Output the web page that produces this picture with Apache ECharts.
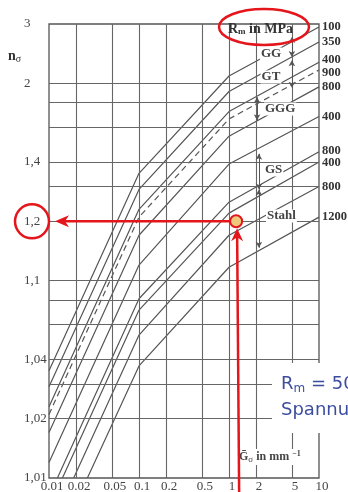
<!DOCTYPE html>
<html><head><meta charset="utf-8">
<script src="https://cdn.jsdelivr.net/npm/echarts@6/dist/echarts.min.js"></script>
<style>html,body{margin:0;padding:0;background:#fff}#c{width:348px;height:492px}</style>
</head><body><div id="c"></div>
<script>
// ---- axis ticks / grid ----
const xGridValues = [0.02, 0.05, 0.1, 0.2, 0.5, 1, 2, 5];
const xTickValues = [0.01, 0.02, 0.05, 0.1, 0.2, 0.5, 1, 2, 5, 10];
const xTickLabels = ['0.01', '0.02', '0.05', '0.1', '0.2', '0.5', '1', '2', '5', '10'];
const yGridValues = [1.02, 1.03, 1.04, 1.06, 1.08, 1.1, 1.2, 1.3, 1.4, 1.6, 1.8, 2];
const yTickValues = [1.01, 1.02, 1.04, 1.1, 1.2, 1.4, 2, 3];
const yTickLabels = ['1,01', '1,02', '1,04', '1,1', '1,2', '1,4', '2', '3'];

// ---- curves: G' (mm^-1) and n_sigma ----
const gFull = [0.01, 0.1, 1, 10];
const gg100 = [1.035, 1.35, 2.09, 2.93];
const gg350 = [1.029, 1.29, 1.91, 2.62];
const gt400 = [1.023, 1.23, 1.72, 2.28];
const gt900 = [1.021, 1.21, 1.66, 2.17];
const ggg800 = [1.017, 1.17, 1.54, 1.96];
const ggg400 = [1.012, 1.12, 1.39, 1.68];
const gs800G = [0.0124, 0.1, 1, 10];
const gs800 = [1.01, 1.081, 1.25, 1.45];
const gs400G = [0.0141, 0.1, 1, 10];
const gs400 = [1.01, 1.071, 1.22, 1.40];
const st800G = [0.0188, 0.1, 1, 10];
const st800 = [1.01, 1.053, 1.17, 1.30];
const st1200G = [0.0267, 0.1, 1, 10];
const st1200 = [1.01, 1.037, 1.117, 1.21];
const curveLabels = ['100', '350', '400', '900', '800', '400', '800', '400', '800', '1200'];

// ---- range brackets (G', n_top, n_bottom) ----
const bracketNames = ['GG', 'GT', 'GGG', 'GS', 'Stahl'];
const bracketG = [5, 5, 2.05, 2.15, 2.15];
const bracketTop = [2.72, 2.31, 1.85, 1.44, 1.29];
const bracketBottom = [2.36, 1.95, 1.65, 1.29, 1.147];

// ---- example reading ----
const exampleG = 1.2;
const exampleN = 1.2;

const curves = [
  [gFull, gg100], [gFull, gg350], [gFull, gt400], [gFull, gt900], [gFull, ggg800],
  [gFull, ggg400], [gs800G, gs800], [gs400G, gs400], [st800G, st800], [st1200G, st1200]
];
const labelShift = [0, 0, -2, 3, 0, 0, -1, 1, 0, 0];

const chart = echarts.init(document.getElementById('c'), null, {renderer: 'canvas'});
const serif = '"Liberation Serif", "DejaVu Serif", serif';
const sans = '"DejaVu Sans", sans-serif';
const lineCol = '#555';

const series = curves.map((c, i) => ({
  type: 'line',
  name: curveLabels[i],
  data: c[0].map((g, k) => [g, c[1][k] - 1]),
  symbol: 'none',
  clip: true,
  animation: false,
  z: 3,
  lineStyle: {color: lineCol, width: 1.2, type: i === 3 ? [6, 4] : 'solid'},
  endLabel: {
    show: true, formatter: curveLabels[i], distance: 3, offset: [0, labelShift[i]],
    color: '#333', fontFamily: serif, fontSize: 12.5, fontWeight: 'bold'
  }
}));

series[0].markLine = {
  silent: true, symbol: 'none', animation: false,
  label: {show: false},
  lineStyle: {color: '#666', width: 1.1, type: 'solid'},
  data: xGridValues.map(v => ({xAxis: v})).concat(yGridValues.map(v => ({yAxis: v - 1})))
};
series[1].markLine = {
  silent: true, symbol: ['arrow', 'arrow'], symbolSize: [5, 6], animation: false,
  label: {show: false},
  lineStyle: {color: '#555', width: 1, type: 'solid'},
  data: bracketNames.map((b, i) => [
    {coord: [bracketG[i], bracketTop[i] - 1]},
    {coord: [bracketG[i], bracketBottom[i] - 1]}
  ])
};

chart.setOption({
  backgroundColor: '#fff',
  animation: false,
  grid: {left: 49, top: 24, width: 270, height: 454, show: true, borderColor: '#555', borderWidth: 1.3, backgroundColor: 'transparent'},
  xAxis: {type: 'log', logBase: 10, min: 0.01, max: 10,
    axisLine: {show: false}, axisTick: {show: false}, axisLabel: {show: false}, splitLine: {show: false}},
  yAxis: {type: 'log', logBase: 10, min: 0.01, max: 2,
    axisLine: {show: false}, axisTick: {show: false}, axisLabel: {show: false}, splitLine: {show: false}},
  series: series
});

const px = v => chart.convertToPixel({xAxisIndex: 0}, v);
const py = v => chart.convertToPixel({yAxisIndex: 0}, v - 1);
const red = '#e4161c';
const g = [];

yTickValues.forEach((v, i) => g.push({type: 'text', z: 100, x: 24, y: py(v),
  style: {text: yTickLabels[i], fill: '#444', font: '13px ' + serif, verticalAlign: 'middle', align: 'left'}}));
xTickValues.forEach((v, i) => g.push({type: 'text', z: 100, x: px(v) + 3, y: 487,
  style: {text: xTickLabels[i], fill: '#444', font: '13px ' + serif, verticalAlign: 'middle', align: 'center'}}));

// axis titles
g.push({type: 'text', z: 100, x: 8, y: 56, style: {
  text: '{n|n}{s|σ}', verticalAlign: 'middle',
  rich: {n: {fontFamily: serif, fontSize: 14, fill: '#333', fontWeight: 'bold'}, s: {fontFamily: serif, fontSize: 10, fill: '#333', padding: [6, 0, 0, 0]}}}});
g.push({type: 'text', z: 100, x: 237, y: 457, style: {
  text: '{g|Ḡ}{s|σ}{t| in mm }{p|−1}', verticalAlign: 'middle', backgroundColor: '#fff', padding: [1, 2],
  rich: {g: {fontFamily: serif, fontSize: 12, fontWeight: 'bold', fill: '#444'},
         s: {fontFamily: serif, fontSize: 9, fill: '#444', padding: [5, 0, 0, 0]},
         t: {fontFamily: serif, fontSize: 12, fontWeight: 'bold', fill: '#444'},
         p: {fontFamily: serif, fontSize: 8, fontWeight: 'bold', fill: '#444', padding: [0, 0, 6, 0]}}}});
g.push({type: 'text', z: 100, x: 228, y: 29, style: {
  text: '{r|R}{m|m}{t| in MPa}', verticalAlign: 'middle',
  rich: {r: {fontFamily: serif, fontSize: 14, fontWeight: 'bold', fill: '#333'},
         m: {fontFamily: serif, fontSize: 9, fontWeight: 'bold', fill: '#333', padding: [6, 0, 0, 0]},
         t: {fontFamily: serif, fontSize: 14, fontWeight: 'bold', fill: '#333'}}}});

// bracket labels
const bracketLabelPos = [[271, 54, 'center'], [271, 77, 'center'], [264, 109, 'left'], [264, 170, 'left'], [266, 216, 'left']];
bracketNames.forEach((b, i) => g.push({type: 'text', z: 100, x: bracketLabelPos[i][0], y: bracketLabelPos[i][1], style: {
  text: b, fill: '#444', font: 'bold 13px ' + serif, verticalAlign: 'middle', align: bracketLabelPos[i][2],
  backgroundColor: '#fff', padding: [0, 1]}}));

// red annotations
const dx = px(exampleG), dy = py(exampleN);
g.push({type: 'ellipse', z: 110, shape: {cx: 264, cy: 27, rx: 45, ry: 18}, style: {fill: 'none', stroke: red, lineWidth: 2.5}});
g.push({type: 'circle', z: 110, shape: {cx: 32, cy: dy, r: 17}, style: {fill: 'none', stroke: red, lineWidth: 2.5}});
g.push({type: 'line', z: 110, shape: {x1: dx - 6, y1: dy, x2: 62, y2: dy}, style: {stroke: red, lineWidth: 2.5}});
g.push({type: 'polygon', z: 110, shape: {points: [[55, dy], [69, dy - 6], [65, dy], [69, dy + 6]]}, style: {fill: red}});
g.push({type: 'line', z: 110, shape: {x1: dx + 3, y1: 492, x2: dx + 1, y2: dy + 12}, style: {stroke: red, lineWidth: 2.5}});
g.push({type: 'polygon', z: 110, shape: {points: [[dx + 1, dy + 7], [dx + 7, dy + 20], [dx + 1, dy + 16], [dx - 5, dy + 20]]}, style: {fill: red}});
g.push({type: 'circle', z: 111, shape: {cx: dx, cy: dy, r: 6}, style: {fill: '#ecc97c', stroke: red, lineWidth: 2}});

// blue overlay text box
g.push({type: 'rect', z: 90, shape: {x: 272, y: 363, width: 80, height: 70}, style: {fill: '#fff'}});
g.push({type: 'text', z: 100, x: 281, y: 384, style: {
  text: '{r|R}{m|m}{t| = 500 MPa}', verticalAlign: 'middle',
  rich: {r: {fontFamily: sans, fontSize: 18, fill: '#3d4d9e'},
         m: {fontFamily: sans, fontSize: 12, fill: '#3d4d9e', padding: [9, 0, 0, 0]},
         t: {fontFamily: sans, fontSize: 18, fill: '#3d4d9e'}}}});
g.push({type: 'text', z: 100, x: 281, y: 410, style: {
  text: 'Spannungsgefälle', fill: '#3d4d9e', font: '18px ' + sans, verticalAlign: 'middle'}});

chart.setOption({graphic: {elements: g}});
</script></body></html>
